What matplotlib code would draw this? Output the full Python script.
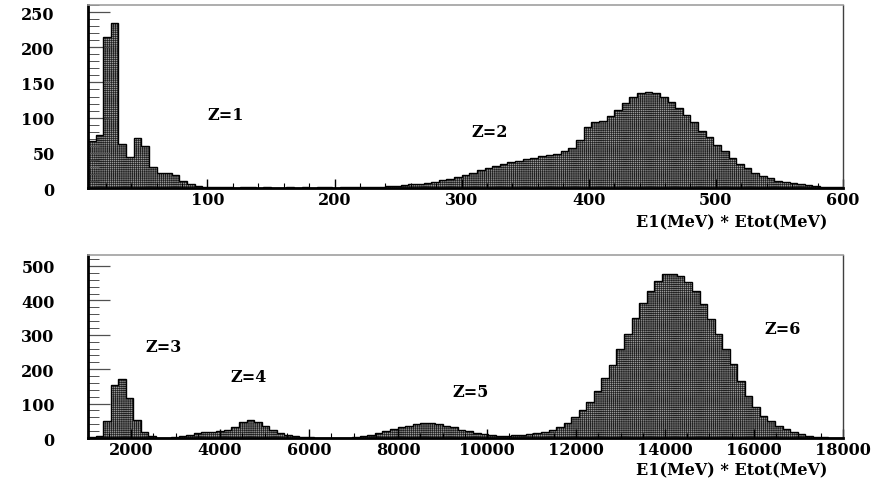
"""Two ROOT-style stepped histograms of E1*Etot for fragments Z=1..6."""

from __future__ import annotations

import matplotlib

matplotlib.use("Agg")

import matplotlib.pyplot as plt
import numpy as np
from matplotlib.ticker import MultipleLocator

# upper panel: 99 bins of 6 MeV from 6 to 600
light_range = (6, 600)
light_counts = [
    67, 75, 214, 234, 62, 44, 71, 60, 30, 21,
    22, 19, 10, 6, 3, 2, 1, 1, 1, 0,
    1, 1, 0, 1, 0, 0, 1, 0, 1, 0,
    1, 1, 0, 1, 1, 1, 1, 2, 2, 3,
    3, 4, 5, 6, 7, 9, 11, 13, 16, 19,
    22, 25, 28, 31, 34, 37, 39, 41, 43, 45,
    47, 49, 52, 57, 68, 86, 94, 95, 102, 111,
    121, 129, 135, 137, 135, 129, 122, 113, 104, 94,
    81, 73, 61, 52, 42, 34, 28, 22, 17, 14,
    10, 8, 7, 5, 4, 3, 2, 1, 1,
]
light_labels = ["Z=1", "Z=2"]

# lower panel: 100 bins from 1030 to 18000
heavy_range = (1030, 18000)
heavy_counts = [
    4, 5, 50, 155, 171, 116, 53, 17, 7, 1,
    1, 2, 5, 10, 16, 17, 17, 19, 24, 32,
    46, 53, 48, 36, 24, 14, 10, 7, 4, 2,
    1, 1, 0, 1, 1, 2, 5, 10, 16, 21,
    26, 31, 36, 41, 44, 45, 41, 36, 31, 24,
    19, 15, 11, 9, 7, 7, 9, 10, 12, 15,
    18, 24, 33, 45, 62, 82, 104, 138, 174, 212,
    259, 302, 349, 392, 428, 455, 477, 476, 472, 453,
    428, 389, 346, 302, 259, 215, 167, 123, 89, 65,
    50, 36, 26, 18, 12, 7, 4, 2, 1, 0,
]
heavy_labels = ["Z=3", "Z=4", "Z=5", "Z=6"]

x_title = "E1(MeV) * Etot(MeV)"

FONT = {"family": "DejaVu Serif", "weight": "bold", "size": 11.5}


def style_axis(ax, xmajor, xminor, ymajor, yminor) -> None:
    """Frame and ticks in the look of an old ROOT/PAW printout."""
    ax.spines["left"].set_linewidth(2.0)
    ax.spines["bottom"].set_linewidth(2.0)
    ax.spines["top"].set_color("#a0a0a0")
    ax.spines["top"].set_linewidth(1.2)
    ax.spines["right"].set_color("#404040")
    ax.spines["right"].set_linewidth(1.0)

    ax.xaxis.set_major_locator(MultipleLocator(xmajor))
    ax.xaxis.set_minor_locator(MultipleLocator(xminor))
    ax.yaxis.set_major_locator(MultipleLocator(ymajor))
    ax.yaxis.set_minor_locator(MultipleLocator(yminor))

    ax.tick_params(axis="x", which="major", direction="in", length=6.5,
                   width=1.0, pad=2.5, top=False)
    ax.tick_params(axis="x", which="minor", direction="in", length=3.5,
                   width=0.8, top=False)
    ax.tick_params(axis="y", which="major", direction="in", length=16,
                   width=0.9, pad=24, right=False, color="#505050")
    ax.tick_params(axis="y", which="minor", direction="in", length=8,
                   width=0.7, right=False, color="#505050")
    for label in ax.get_xticklabels() + ax.get_yticklabels():
        label.set_fontfamily(FONT["family"])
        label.set_fontweight(FONT["weight"])
        label.set_fontsize(FONT["size"])


def draw_hist(ax, counts, value_range) -> None:
    edges = np.linspace(value_range[0], value_range[1], len(counts) + 1)
    ax.stairs(counts, edges, fill=True, facecolor="#9a9a9a",
              edgecolor="#202020", hatch="++++++++", linewidth=0.0, zorder=1)
    ax.stairs(counts, edges, color="black", linewidth=1.0, zorder=2)
    ax.set_xlim(*value_range)


def main() -> None:
    plt.rcParams["hatch.linewidth"] = 0.5
    fig = plt.figure(figsize=(8.85, 4.85), dpi=100)
    top = fig.add_axes((0.0994, 0.6103, 0.8531, 0.3773))
    bottom = fig.add_axes((0.0994, 0.0948, 0.8531, 0.3774))

    draw_hist(top, light_counts, light_range)
    top.set_ylim(0, 260)
    style_axis(top, 100, 20, 50, 10)
    for text, x, y in zip(light_labels, (114, 322), (105, 80), strict=True):
        top.text(x, y, text, ha="center", va="center", **FONT)

    draw_hist(bottom, heavy_counts, heavy_range)
    bottom.set_ylim(0, 532)
    style_axis(bottom, 2000, 500, 100, 20)
    for text, x, y in zip(heavy_labels, (2730, 4640, 9620, 16650),
                          (265, 180, 134, 317), strict=True):
        bottom.text(x, y, text, ha="center", va="center", **FONT)

    for ax, ylab in ((top, -0.14), (bottom, -0.13)):
        ax.set_xlabel(x_title, loc="right", fontdict=FONT)
        ax.xaxis.set_label_coords(0.98, ylab)

    fig.savefig("out.png", dpi=100)


if __name__ == "__main__":
    main()
